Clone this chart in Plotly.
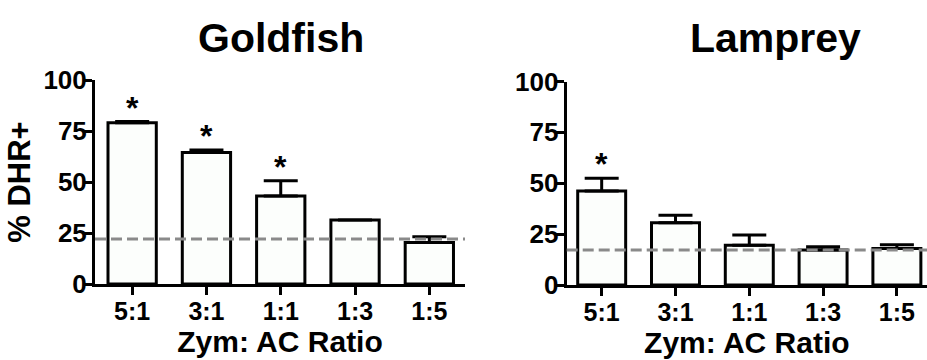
import plotly.graph_objects as go

# Zymosan : adherent-cell ratios on the x axis
ratios = ["5:1", "3:1", "1:1", "1:3", "1:5"]

# Mean % DHR+ cells and upper SEM for each species
goldfish_mean = [79.0, 64.4, 43.1, 31.4, 20.3]
goldfish_sem = [0.6, 1.3, 7.5, 0.0, 2.9]
lamprey_mean = [46.2, 30.6, 19.5, 17.2, 17.9]
lamprey_sem = [6.3, 3.7, 5.1, 1.6, 1.9]

# Baseline (unstimulated) level drawn as a dashed reference line
goldfish_baseline = 22.0
lamprey_baseline = 17.2

# Which ratios are significantly different from baseline
goldfish_sig = [True, True, True, False, False]
lamprey_sig = [True, False, False, False, False]

FONT = "Arial, Liberation Sans, sans-serif"
W, H = 927, 360

fig = go.Figure()

panels = [
    dict(name="Goldfish", mean=goldfish_mean, sem=goldfish_sem, base=goldfish_baseline,
         sig=goldfish_sig, xa="x", ya="y", px=(95, 465), py=(80, 284), xr=[-0.5, 4.48],
         title_x=281),
    dict(name="Lamprey", mean=lamprey_mean, sem=lamprey_sem, base=lamprey_baseline,
         sig=lamprey_sig, xa="x2", ya="y2", px=(566.7, 927), py=(81.5, 285), xr=[-0.474, 4.408],
         title_x=775),
]

for i, p in enumerate(panels):
    fig.add_trace(go.Bar(
        x=ratios, y=p["mean"], xaxis=p["xa"], yaxis=p["ya"],
        width=0.65,
        marker=dict(color="#fcfefc", line=dict(color="black", width=3)),
        error_y=dict(type="data", symmetric=False, array=p["sem"],
                     arrayminus=[0] * len(p["sem"]), color="black",
                     thickness=3, width=17),
        showlegend=False, hoverinfo="skip",
    ))

    sfx = "" if i == 0 else "2"
    xdom = [p["px"][0] / W, p["px"][1] / W]
    ydom = [(H - p["py"][1]) / H, (H - p["py"][0]) / H]

    fig.update_layout(**{
        "xaxis" + sfx: dict(
            domain=xdom, range=p["xr"], type="category", automargin=False,
            showline=True, linecolor="black", linewidth=3,
            ticks="outside", ticklen=8, tickwidth=3, tickcolor="black",
            ticklabelstandoff=-5,
            tickfont=dict(family=FONT, size=25, color="black", weight="bold"),
            showgrid=False, zeroline=False,
            title=dict(text="Zym: AC Ratio", standoff=2,
                       font=dict(family=FONT, size=30, color="black", weight="bold")),
            anchor="y" + sfx,
        ),
        "yaxis" + sfx: dict(
            domain=ydom, range=[0, 100], tickvals=[0, 25, 50, 75, 100], automargin=False,
            showline=True, linecolor="black", linewidth=3,
            ticks="outside", ticklen=8, tickwidth=3, tickcolor="black",
            ticklabelstandoff=-8,
            tickfont=dict(family=FONT, size=26, color="black", weight="bold"),
            showgrid=False, zeroline=False,
            anchor="x" + sfx,
        ),
    })

    # dashed baseline across the whole panel
    fig.add_shape(type="line", xref=p["xa"] + " domain", yref=p["ya"],
                  x0=0, x1=1, y0=p["base"], y1=p["base"], layer="above",
                  line=dict(color="#8a8a8a", width=3, dash="11px,5px"))

    # significance asterisks above the error bars
    for r, m, s, sig in zip(ratios, p["mean"], p["sem"], p["sig"]):
        if sig:
            fig.add_annotation(x=r, y=m + s, xref=p["xa"], yref=p["ya"], text="*",
                               showarrow=False, yanchor="bottom", yshift=-6,
                               font=dict(family=FONT, size=32, color="black", weight="bold"))

    # panel title
    fig.add_annotation(x=p["title_x"] / W, y=1 - 38 / H, xref="paper", yref="paper",
                       text=p["name"], showarrow=False, xanchor="center", yanchor="middle",
                       font=dict(family=FONT, size=41, color="black", weight="bold"))

# shared y-axis title on the left panel
fig.update_layout(yaxis=dict(title=dict(text="% DHR+", standoff=4,
                                        font=dict(family=FONT, size=31, color="black", weight="bold"))))

fig.update_layout(
    width=W, height=H,
    margin=dict(l=0, r=0, t=0, b=0),
    paper_bgcolor="white", plot_bgcolor="white",
    bargap=0.35,
)

fig.write_html("out.html")
